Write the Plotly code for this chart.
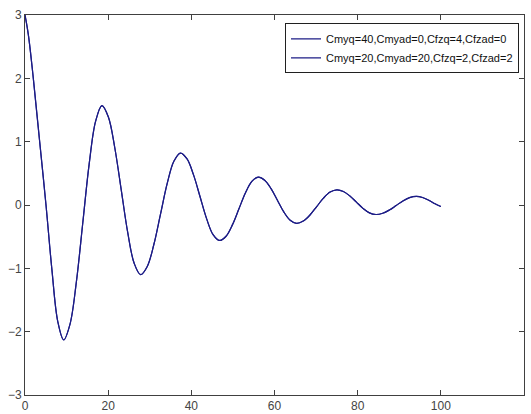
import plotly.graph_objects as go

# Values
t = [0, 0.8, 2.0, 3.45, 5.05, 6.47, 7.88, 9.3,
     10.83, 12.37, 13.9, 15.43, 16.97, 18.5,
     20.05, 21.6, 23.15, 24.7, 26.25, 27.8,
     29.4, 31.0, 32.6, 34.2, 35.8, 37.4,
     38.97, 40.53, 42.1, 43.67, 45.23, 46.8,
     48.35, 49.9, 51.45, 53.0, 54.55, 56.1,
     57.63, 59.17, 60.7, 62.23, 63.77, 65.3,
     66.92, 68.53, 70.15, 71.77, 73.38, 75.0,
     76.57, 78.13, 79.7, 81.27, 82.83, 84.4,
     86.02, 87.63, 89.25, 90.87, 92.48, 94.1,
     95.6, 97.1, 98.6, 100.0]
resp_case1 = [3.0, 2.69, 2.0, 1.05, 0.0, -1.02, -1.84, -2.13,
              -1.88, -1.205, -0.28, 0.645, 1.32, 1.57,
              1.39, 0.90, 0.235, -0.433, -0.92, -1.1,
              -0.97, -0.62, -0.14, 0.34, 0.69, 0.82,
              0.728, 0.475, 0.13, -0.215, -0.468, -0.56,
              -0.493, -0.31, -0.06, 0.19, 0.373, 0.44,
              0.391, 0.258, 0.075, -0.108, -0.241, -0.29,
              -0.254, -0.158, -0.025, 0.108, 0.204, 0.24,
              0.214, 0.143, 0.045, -0.053, -0.124, -0.15,
              -0.131, -0.079, -0.008, 0.064, 0.116, 0.135,
              0.118, 0.075, 0.02, -0.025]
resp_case2 = list(resp_case1)

labels = ["Cmyq=40,Cmyad=0,Cfzq=4,Cfzad=0",
          "Cmyq=20,Cmyad=20,Cfzq=2,Cfzad=2"]
x_ticks = [0, 20, 40, 60, 80, 100, 120]
y_ticks = [-3, -2, -1, 0, 1, 2, 3]

line_color = "#1c1c86"

fig = go.Figure()
for ys, name in zip([resp_case1, resp_case2], labels):
    fig.add_trace(go.Scatter(x=t, y=ys, mode="lines", name=name,
                             line=dict(color=line_color, width=1.2,
                                       shape="spline", smoothing=1.0)))

axis_common = dict(showgrid=False, zeroline=False, showline=True,
                   linecolor="#404040", linewidth=1, mirror="ticks",
                   ticks="inside", ticklen=5, tickcolor="#404040",
                   automargin=False,
                   tickfont=dict(family="Liberation Sans", size=12, color="#444444"))

fig.update_xaxes(range=[0, 120], tickvals=x_ticks, **axis_common)
fig.update_yaxes(range=[-3, 3], tickvals=y_ticks, **axis_common)

fig.update_layout(
    width=531, height=414,
    margin=dict(l=25, r=7, t=15, b=19),
    paper_bgcolor="white", plot_bgcolor="white",
    showlegend=True,
    legend=dict(x=0.99, y=0.978, xanchor="right", yanchor="top",
                bgcolor="white", bordercolor="#202020", borderwidth=1,
                font=dict(family="Liberation Sans", size=11, color="#111111"),
                tracegroupgap=0, itemwidth=30),
)

fig.write_html("out.html")
